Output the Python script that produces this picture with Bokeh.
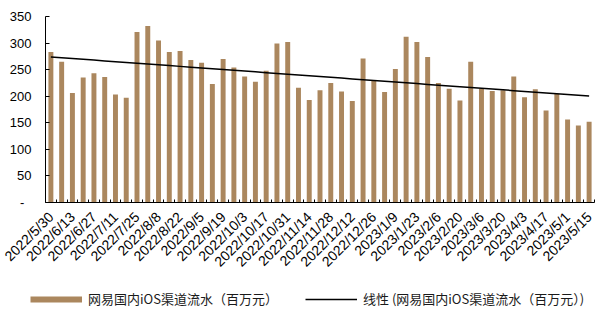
import math
import numpy as np
from bokeh.plotting import figure
from bokeh.layouts import column, row
from bokeh.models import (ColumnDataSource, Range1d, FixedTicker, Legend, LegendItem)
from bokeh.embed import file_html
from bokeh.resources import INLINE

weeks = [
    "2022/5/30", "2022/6/6", "2022/6/13", "2022/6/20", "2022/6/27", "2022/7/4",
    "2022/7/11", "2022/7/18", "2022/7/25", "2022/8/1", "2022/8/8", "2022/8/15",
    "2022/8/22", "2022/8/29", "2022/9/5", "2022/9/12", "2022/9/19", "2022/9/26",
    "2022/10/3", "2022/10/10", "2022/10/17", "2022/10/24", "2022/10/31",
    "2022/11/7", "2022/11/14", "2022/11/21", "2022/11/28", "2022/12/5",
    "2022/12/12", "2022/12/19", "2022/12/26",
    "2023/1/2", "2023/1/9", "2023/1/16", "2023/1/23", "2023/1/30", "2023/2/6",
    "2023/2/13", "2023/2/20", "2023/2/27", "2023/3/6", "2023/3/13", "2023/3/20",
    "2023/3/27", "2023/4/3", "2023/4/10", "2023/4/17", "2023/4/24", "2023/5/1",
    "2023/5/8", "2023/5/15",
]
revenue = [
    283, 265, 206, 235, 243, 236, 203, 197, 321, 332, 305, 283, 285, 268, 263,
    223, 270, 254, 237, 227, 248, 299, 302, 216, 193, 211, 225, 209, 191, 271,
    230, 208, 251, 312, 302, 274, 225, 214, 192, 265, 214, 210, 211, 237, 198,
    213, 173, 204, 156, 145, 152,
]
y_ticks = [0, 50, 100, 150, 200, 250, 300, 350]
y_labels = ["-\u00a0\u00a0", "50", "100", "150", "200", "250", "300", "350"]
bar_label = "网易国内iOS渠道流水（百万元）"
trend_label = "线性 (网易国内iOS渠道流水（百万元）)"

BROWN = "#AB875E"

xs = list(range(len(revenue)))
coef = np.polyfit(xs, revenue, 1)
trend = [float(coef[0] * x + coef[1]) for x in xs]
src = ColumnDataSource(dict(x=xs, v=revenue, trend=trend))

p = figure(width=596, height=280, output_backend="svg", toolbar_location=None,
           x_range=Range1d(-0.5, len(revenue) - 0.5), y_range=Range1d(0, 350),
           min_border_left=45, min_border_right=2, min_border_top=16,
           min_border_bottom=78)
p.outline_line_color = None
p.xgrid.visible = False
p.ygrid.visible = False

bars = p.vbar(x="x", top="v", width=0.46, source=src, fill_color=BROWN,
              line_color=None)
line = p.line(x="x", y="trend", source=src, line_color="black", line_width=1.5)

# x axis
xa = p.xaxis[0]
xa.ticker = FixedTicker(ticks=list(range(0, len(revenue), 2)),
                        minor_ticks=[i - 0.5 for i in range(len(revenue) + 1)])
xa.major_label_overrides = {i: weeks[i] for i in range(0, len(revenue), 2)}
xa.major_label_orientation = math.pi / 4
xa.major_tick_in = 0
xa.major_tick_out = 0
xa.minor_tick_in = 3
xa.minor_tick_out = 0
xa.axis_line_color = "black"
xa.minor_tick_line_color = "black"
xa.major_label_text_font = "Liberation Sans"
xa.major_label_text_font_size = "14px"
xa.major_label_text_color = "black"
xa.major_label_standoff = 12

# y axis
ya = p.yaxis[0]
ya.ticker = FixedTicker(ticks=y_ticks, minor_ticks=[])
ya.major_label_overrides = {t: l for t, l in zip(y_ticks, y_labels)}
ya.major_tick_in = 4
ya.major_tick_out = 0
ya.axis_line_color = "black"
ya.major_tick_line_color = "black"
ya.major_label_text_font = "Liberation Sans"
ya.major_label_text_font_size = "13px"
ya.major_label_text_color = "black"
ya.major_label_standoff = 14

# legend strip
lp = figure(width=596, height=31, output_backend="svg", toolbar_location=None,
            x_range=Range1d(0, 596), y_range=Range1d(0, 31),
            x_axis_location=None, y_axis_location=None,
            min_border=0)
lp.outline_line_color = None
lp.xgrid.visible = False
lp.ygrid.visible = False
sw_bar = lp.line(x=[-50, -40], y=[-50, -50], line_color=BROWN, line_width=6)
sw_line = lp.line(x=[-50, -40], y=[-50, -50], line_color="black", line_width=1.5)
leg = Legend(items=[LegendItem(label=bar_label, renderers=[sw_bar]),
                    LegendItem(label=trend_label, renderers=[sw_line])],
             orientation="horizontal", location=(30, 3), padding=0, margin=0,
             spacing=27, glyph_width=52, glyph_height=8, label_standoff=6,
             label_height=13, border_line_color=None, background_fill_alpha=0,
             label_text_font="Noto Sans CJK SC", label_text_font_size="13px",
             label_text_color="#1a1a1a")
lp.add_layout(leg)

layout = column(p, row(lp), spacing=0)
open("out.html", "w").write(file_html(layout, INLINE))
